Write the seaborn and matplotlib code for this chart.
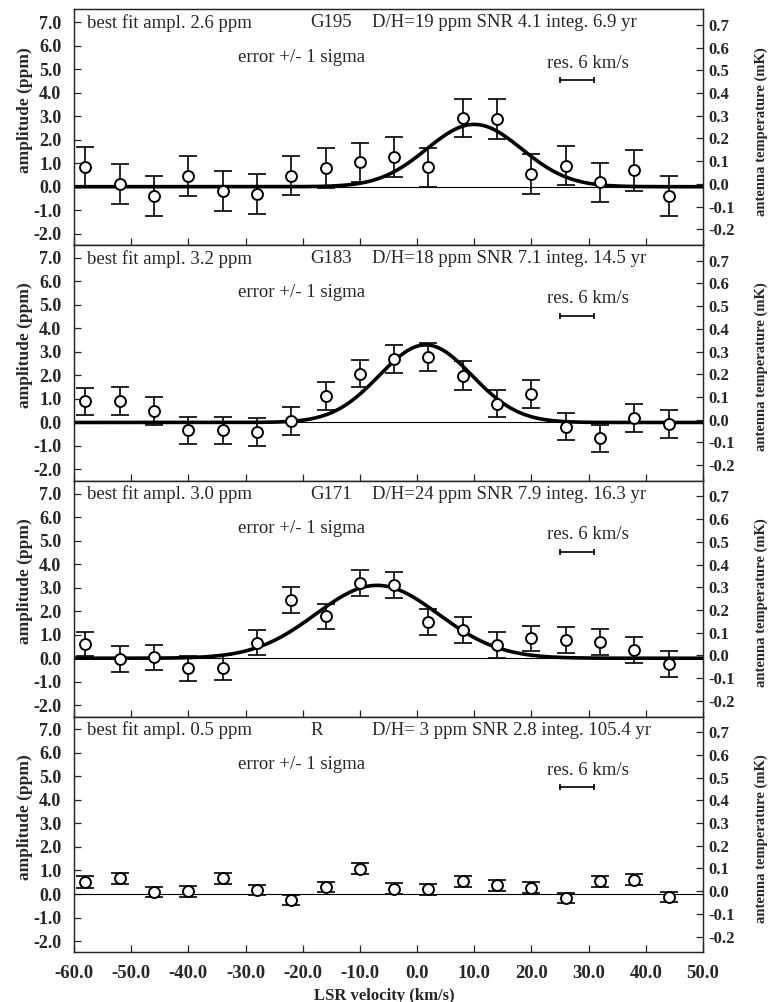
import numpy as np
import matplotlib
matplotlib.use("Agg")
import matplotlib.pyplot as plt
import seaborn as sns

# velocities of the channels (km/s, LSR)
velocity = [-58, -52, -46, -40, -34, -28, -22, -16, -10, -4, 2, 8, 14, 20, 26, 32, 38, 44]

sources = ["G195", "G183", "G171", "R"]
best_fit = ["2.6", "3.2", "3.0", "0.5"]
info = ["D/H=19 ppm SNR 4.1 integ. 6.9 yr",
        "D/H=18 ppm SNR 7.1 integ. 14.5 yr",
        "D/H=24 ppm SNR 7.9 integ. 16.3 yr",
        "D/H= 3 ppm SNR 2.8 integ. 105.4 yr"]

# measured amplitudes (ppm) and 1-sigma errors
amp_g195 = [0.84, 0.12, -0.41, 0.46, -0.19, -0.31, 0.47, 0.78, 1.04, 1.28,
            0.82, 2.93, 2.87, 0.53, 0.90, 0.18, 0.69, -0.40]
err_g195 = [0.83, 0.84, 0.85, 0.84, 0.86, 0.85, 0.84, 0.85, 0.84, 0.85,
            0.83, 0.82, 0.85, 0.84, 0.83, 0.84, 0.86, 0.84]
amp_g183 = [0.90, 0.90, 0.49, -0.33, -0.33, -0.40, 0.07, 1.11, 2.08, 2.70,
            2.80, 1.99, 0.80, 1.20, -0.18, -0.68, 0.20, -0.07]
err_g183 = [0.58, 0.60, 0.60, 0.57, 0.57, 0.60, 0.59, 0.60, 0.59, 0.60,
            0.59, 0.61, 0.58, 0.60, 0.58, 0.58, 0.60, 0.59]
amp_g171 = [0.60, -0.03, 0.04, -0.43, -0.40, 0.66, 2.48, 1.79, 3.20, 3.12,
            1.55, 1.19, 0.55, 0.84, 0.79, 0.69, 0.35, -0.25]
err_g171 = [0.52, 0.56, 0.54, 0.54, 0.54, 0.53, 0.55, 0.53, 0.55, 0.56,
            0.55, 0.56, 0.55, 0.55, 0.55, 0.55, 0.56, 0.56]
amp_r = [0.51, 0.66, 0.07, 0.11, 0.66, 0.17, -0.26, 0.30, 1.08, 0.23,
         0.20, 0.54, 0.37, 0.26, -0.17, 0.54, 0.60, -0.14]
err_r = [0.24, 0.22, 0.21, 0.23, 0.23, 0.23, 0.22, 0.23, 0.24, 0.23,
         0.23, 0.23, 0.23, 0.23, 0.22, 0.23, 0.23, 0.22]

amps = [amp_g195, amp_g183, amp_g171, amp_r]
errs = [err_g195, err_g183, err_g171, err_r]

# best-fit gaussian parameters (amplitude ppm, centre km/s, sigma km/s); R has no curve drawn
fit_amp = [2.65, 3.3, 3.1, None]
fit_center = [10.0, 1.5, -7.0, None]
fit_sigma = [8.3, 8.1, 10.7, None]

sns.set_style("ticks")
plt.rcParams["font.family"] = ["Liberation Serif", "DejaVu Serif"]
plt.rcParams["axes.linewidth"] = 0.9

fig = plt.figure(figsize=(7.73, 10.02), dpi=100)

left, width = 0.0957, 0.8137
height = 0.2353
bottom0 = 0.0496

vgrid = np.linspace(-60, 50, 500)
note_size = 13.5

for i in range(4):
    ax = fig.add_axes([left, bottom0 + (3 - i) * height, width, height])
    ax.axhline(0, color="black", lw=0.8, zorder=1)

    if fit_amp[i] is not None:
        curve = fit_amp[i] * np.exp(-(vgrid - fit_center[i]) ** 2 / (2 * fit_sigma[i] ** 2))
        sns.lineplot(x=vgrid, y=curve, ax=ax, color="black", lw=2.6, zorder=2)

    ax.errorbar(velocity, amps[i], yerr=errs[i], fmt="none", ecolor="black",
                elinewidth=1.2, capsize=6.5, capthick=1.2, zorder=3)
    sns.scatterplot(x=velocity, y=amps[i], ax=ax, marker="o", s=62,
                    facecolor="white", edgecolor="black", linewidth=1.4, zorder=5)

    # resolution bar
    ax.plot([25, 31], [4.54, 4.54], color="black", lw=1.2, zorder=3)
    ax.plot([25, 31], [4.54, 4.54], ls="none", marker="|", ms=4, mew=1.2, color="black")
    ax.text(29.8, 5.26, "res. 6 km/s", ha="center", va="center", fontsize=note_size)

    ax.text(-57.7, 6.97, "best fit ampl. " + best_fit[i] + " ppm", ha="left", va="center", fontsize=note_size)
    ax.text(-18.7, 6.97, sources[i], ha="left", va="center", fontsize=note_size)
    ax.text(-7.9, 6.97, info[i], ha="left", va="center", fontsize=note_size)
    ax.text(-20.2, 5.51, "error +/- 1 sigma", ha="center", va="center", fontsize=note_size)

    ax.set_xlim(-60, 50)
    ax.set_ylim(-2.48, 7.55)
    ax.set_xticks(np.arange(-60, 51, 10))
    ax.set_yticks(np.arange(-2, 8, 1))
    ax.set_yticklabels([f"{v:.1f}" for v in np.arange(-2, 8, 1)], fontweight="bold", fontsize=13)
    ax.tick_params(direction="in", length=5, width=0.9, pad=9)
    ax.set_ylabel("amplitude (ppm)", fontsize=12.5, fontweight="bold", ha="center", va="center")
    ax.yaxis.set_label_coords(-0.078, 0.574)
    if i < 3:
        ax.set_xticklabels([])
        ax.set_xlabel("")
    else:
        ax.set_xticklabels([f"{v:.1f}" for v in np.arange(-60, 51, 10)], fontweight="bold", fontsize=13.5)
        ax.set_xlabel("LSR velocity (km/s)", fontsize=12, fontweight="bold")
        ax.xaxis.set_label_coords(0.494, -0.15)

    ax2 = ax.twinx()
    ax2.set_ylim(-0.269, 0.769)
    ax2.set_yticks(np.arange(-0.2, 0.71, 0.1))
    ax2.set_yticklabels([f"{v:.1f}" for v in np.arange(-0.2, 0.71, 0.1)], fontweight="bold", fontsize=12)
    ax2.tick_params(direction="in", length=5, width=0.9, pad=4)
    ax2.set_ylabel("antenna temperature (mK)", fontsize=10.5, fontweight="bold", ha="center", va="center")
    ax2.yaxis.set_label_coords(1.092, 0.482)
    for s in ax2.spines.values():
        s.set_linewidth(0.9)

fig.savefig("out.png", dpi=100, facecolor="white")
